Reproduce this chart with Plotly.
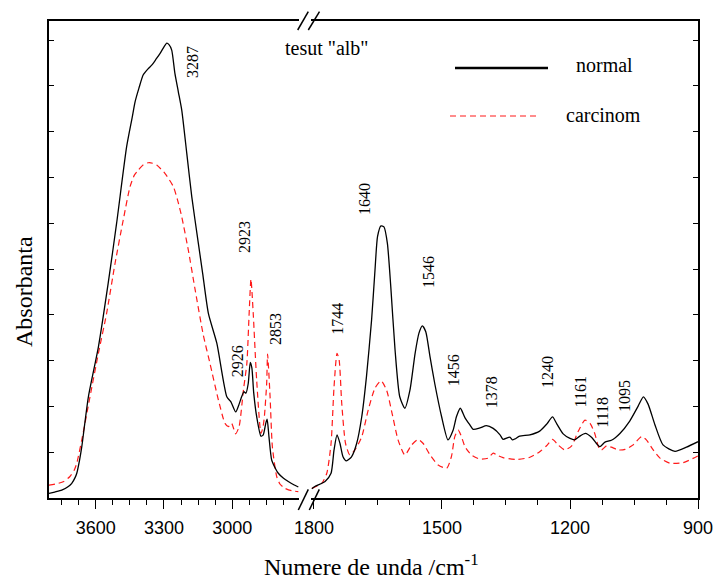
import plotly.graph_objects as go

# ---- data: left segment (high wavenumbers) ----
left_wn_normal = [3805, 3780, 3749, 3720, 3705, 3690, 3683, 3670, 3661, 3632, 3588, 3545, 3508, 3464,
                  3440, 3427, 3410, 3391, 3370, 3354, 3335, 3317, 3300, 3288, 3278, 3266, 3252, 3237,
                  3222, 3200, 3178, 3149, 3130, 3105, 3068, 3024, 3006, 2985, 2970, 2959, 2949, 2940,
                  2930, 2921, 2914, 2906, 2893, 2874, 2864, 2853, 2847, 2839, 2827, 2810, 2798, 2775,
                  2754, 2730, 2710]
left_a_normal = [0.010, 0.013, 0.017, 0.025, 0.032, 0.045, 0.054, 0.085, 0.112, 0.221, 0.330, 0.469, 0.600, 0.767,
                 0.830, 0.865, 0.895, 0.924, 0.937, 0.945, 0.958, 0.971, 0.985, 0.993, 0.990, 0.978, 0.927, 0.887,
                 0.847, 0.753, 0.658, 0.556, 0.490, 0.403, 0.338, 0.221, 0.210, 0.188, 0.205, 0.221, 0.232, 0.229,
                 0.250, 0.296, 0.284, 0.230, 0.178, 0.135, 0.138, 0.163, 0.172, 0.134, 0.083, 0.064, 0.054, 0.043,
                 0.036, 0.029, 0.024]

left_wn_carc = [3805, 3764, 3740, 3713, 3695, 3683, 3661, 3625, 3588, 3552, 3515, 3479, 3449, 3430,
                3413, 3390, 3369, 3350, 3332, 3296, 3259, 3240, 3222, 3193, 3164, 3127, 3098, 3061,
                3032, 3017, 3003, 2993, 2985, 2970, 2951, 2936, 2926, 2918, 2908, 2893, 2874, 2865,
                2859, 2849, 2845, 2834, 2824, 2805, 2790, 2768, 2740, 2710]
left_a_carc = [0.028, 0.032, 0.036, 0.047, 0.060, 0.076, 0.127, 0.221, 0.316, 0.403, 0.512, 0.607, 0.680, 0.705,
               0.716, 0.728, 0.732, 0.731, 0.727, 0.709, 0.680, 0.650, 0.614, 0.541, 0.457, 0.355, 0.294, 0.214,
               0.163, 0.156, 0.163, 0.150, 0.140, 0.156, 0.236, 0.294, 0.403, 0.478, 0.403, 0.258, 0.141, 0.155,
               0.178, 0.250, 0.314, 0.221, 0.112, 0.047, 0.030, 0.021, 0.016, 0.014]

# ---- data: right segment (fingerprint region) ----
right_wn_normal = [1805, 1798, 1774, 1760, 1753, 1746, 1739, 1732, 1724, 1712, 1700, 1688, 1677, 1665,
                   1657, 1651, 1643, 1636, 1628, 1620, 1610, 1599, 1587, 1575, 1563, 1554, 1546, 1538,
                   1528, 1517, 1501, 1486, 1474, 1466, 1457, 1446, 1435, 1427, 1411, 1396, 1380, 1364,
                   1357, 1341, 1335, 1329, 1318, 1294, 1271, 1254, 1241, 1231, 1216, 1200, 1189, 1177,
                   1164, 1149, 1138, 1130, 1118, 1103, 1083, 1060, 1040, 1028, 1017, 1001, 982, 954,
                   927, 900]
right_a_normal = [0.020, 0.025, 0.036, 0.054, 0.105, 0.138, 0.119, 0.090, 0.081, 0.090, 0.119, 0.178, 0.265, 0.389,
                  0.498, 0.571, 0.594, 0.592, 0.556, 0.461, 0.323, 0.221, 0.196, 0.236, 0.316, 0.360, 0.376, 0.363,
                  0.308, 0.250, 0.178, 0.127, 0.148, 0.178, 0.196, 0.175, 0.160, 0.150, 0.153, 0.158, 0.152, 0.138,
                  0.128, 0.133, 0.127, 0.129, 0.135, 0.138, 0.146, 0.162, 0.177, 0.162, 0.140, 0.130, 0.127, 0.135,
                  0.141, 0.132, 0.119, 0.112, 0.122, 0.126, 0.141, 0.168, 0.201, 0.221, 0.205, 0.160, 0.116, 0.102,
                  0.111, 0.123]

right_wn_carc = [1805, 1782, 1770, 1760, 1753, 1746, 1741, 1735, 1726, 1716, 1704, 1688, 1673, 1657,
                 1643, 1630, 1617, 1603, 1587, 1571, 1556, 1544, 1528, 1509, 1489, 1478, 1470, 1462,
                 1456, 1446, 1431, 1411, 1392, 1380, 1372, 1357, 1325, 1294, 1271, 1255, 1241, 1228,
                 1212, 1196, 1181, 1165, 1153, 1142, 1132, 1126, 1114, 1103, 1087, 1071, 1052, 1032,
                 1021, 1005, 989, 966, 935, 900]
right_a_carc = [0.021, 0.032, 0.054, 0.119, 0.243, 0.316, 0.301, 0.207, 0.119, 0.094, 0.105, 0.134, 0.192, 0.240,
                0.256, 0.236, 0.185, 0.127, 0.094, 0.116, 0.128, 0.119, 0.094, 0.072, 0.065, 0.090, 0.134, 0.148,
                0.138, 0.112, 0.094, 0.085, 0.087, 0.098, 0.094, 0.088, 0.084, 0.089, 0.101, 0.114, 0.128, 0.116,
                0.105, 0.114, 0.145, 0.170, 0.163, 0.141, 0.109, 0.105, 0.114, 0.111, 0.105, 0.106, 0.116, 0.134,
                0.127, 0.105, 0.087, 0.076, 0.077, 0.092]

# peak labels: (text, wavenumber position, absorbance position, axis)
peak_labels = ["3287", "2923", "2926", "2853", "1744", "1640", "1546", "1456", "1378", "1240", "1161", "1118", "1095"]
peak_label_x = [3172, 2944, 2979, 2812, 1744, 1680, 1533, 1474, 1385, 1254, 1176, 1123, 1071]
peak_label_y = [0.952, 0.570, 0.299, 0.369, 0.391, 0.653, 0.493, 0.279, 0.231, 0.275, 0.231, 0.188, 0.223]
peak_label_axis = ["x", "x", "x", "x", "x2", "x2", "x2", "x2", "x2", "x2", "x2", "x2", "x2"]

series_names = ["normal", "carcinom"]
x_major_left = [3600, 3300, 3000]
x_major_right = [1800, 1500, 1200, 900]

# ---- layout geometry (pixels in the 715x581 page) ----
W, H = 715, 581
ML, MR, MT, MB = 49, 17, 21, 83
PW, PH = W - ML - MR, H - MT - MB


def px(x):
    return (x - ML) / PW


def py(y):
    return (H - MB - y) / PH


BLACK = "#000000"
RED = "#ff1a1a"
SERIF = "Liberation Serif, Times New Roman, serif"
SANS = "Liberation Sans, Arial, sans-serif"
DASH = "6px,4px"
smooth = 0.6

fig = go.Figure()
fig.add_trace(go.Scatter(x=left_wn_carc, y=left_a_carc, mode="lines", xaxis="x", yaxis="y",
                         line=dict(color=RED, width=1.2, dash=DASH, shape="spline", smoothing=smooth),
                         showlegend=False))
fig.add_trace(go.Scatter(x=left_wn_normal, y=left_a_normal, mode="lines", xaxis="x", yaxis="y",
                         line=dict(color=BLACK, width=1.3, shape="spline", smoothing=smooth),
                         showlegend=False))
fig.add_trace(go.Scatter(x=right_wn_carc, y=right_a_carc, mode="lines", xaxis="x2", yaxis="y2",
                         line=dict(color=RED, width=1.2, dash=DASH, shape="spline", smoothing=smooth),
                         showlegend=False))
fig.add_trace(go.Scatter(x=right_wn_normal, y=right_a_normal, mode="lines", xaxis="x2", yaxis="y2",
                         line=dict(color=BLACK, width=1.3, shape="spline", smoothing=smooth),
                         showlegend=False))

xcommon = dict(showgrid=False, zeroline=False, showline=True, linecolor=BLACK, linewidth=1.5,
               mirror=True, ticks="outside", ticklen=9.5, tickwidth=1.3, tickcolor=BLACK,
               tickfont=dict(family=SANS, size=18, color=BLACK), ticklabelstandoff=3,
               tickmode="array", automargin=False)
ycommon = dict(range=[0, 1.0415], showgrid=False, zeroline=False, showline=True, linecolor=BLACK,
               linewidth=1.5, ticks="inside", ticklen=5, tickwidth=1.2, tickcolor=BLACK,
               dtick=0.1, tick0=0, showticklabels=False, automargin=False)

left_end_px, right_start_px = 299, 311
fig.update_layout(
    width=W, height=H,
    margin=dict(l=ML, r=MR, t=MT, b=MB, pad=0, autoexpand=False),
    paper_bgcolor="white", plot_bgcolor="white",
    showlegend=False,
    xaxis=dict(domain=[0, px(left_end_px)], range=[3805, 2707], anchor="y",
               tickvals=x_major_left,
               minor=dict(tickvals=[3750, 3675, 3525, 3450, 3375, 3225, 3150, 3075, 2925, 2850, 2775],
                          ticks="outside", ticklen=5.5, tickwidth=1.2, tickcolor=BLACK),
               **xcommon),
    xaxis2=dict(domain=[px(right_start_px), 1], range=[1807, 900], anchor="y2",
                tickvals=x_major_right,
                minor=dict(tickvals=[1725, 1650, 1575, 1425, 1350, 1275, 1125, 1050, 975],
                           ticks="outside", ticklen=5.5, tickwidth=1.2, tickcolor=BLACK),
                **xcommon),
    yaxis=dict(anchor="x", side="left", **ycommon),
    yaxis2=dict(anchor="x2", side="right", overlaying="y", **ycommon),
)

# peak labels
for t, xv, yv, ax in zip(peak_labels, peak_label_x, peak_label_y, peak_label_axis):
    fig.add_annotation(x=xv, y=yv, xref=ax, yref="y" if ax == "x" else "y2", text=t,
                       textangle=-90, showarrow=False, xanchor="center", yanchor="middle",
                       font=dict(family=SERIF, size=16, color=BLACK))


def paper_text(x, y, text, size, xanchor="center", angle=0):
    fig.add_annotation(x=px(x), y=py(y), xref="paper", yref="paper", text=text,
                       textangle=angle, showarrow=False, xanchor=xanchor, yanchor="middle",
                       font=dict(family=SERIF, size=size, color=BLACK))


paper_text(327, 48, 'tesut "alb"', 20)
paper_text(574, 65, series_names[0], 20, xanchor="left")
paper_text(564, 115, series_names[1], 20, xanchor="left")
paper_text(24, 292, "Absorbanta", 24, angle=-90)
paper_text(371, 565, "Numere de unda /cm<sup>-1</sup>", 24)

# legend samples
fig.add_shape(type="line", xref="paper", yref="paper", x0=px(455), x1=px(548), y0=py(68), y1=py(68),
              line=dict(color=BLACK, width=2.6))
fig.add_shape(type="line", xref="paper", yref="paper", x0=px(450), x1=px(540), y0=py(116), y1=py(116),
              line=dict(color=RED, width=1.2, dash=DASH))

# axis-break marks
for (x0, y0, x1, y1) in [(297.7, 30, 308.3, 11.7), (308.3, 30, 319.5, 11.7),
                         (298.3, 510, 308.3, 489.3), (309.3, 510, 319.3, 489.3)]:
    fig.add_shape(type="line", xref="paper", yref="paper", x0=px(x0), y0=py(y0), x1=px(x1), y1=py(y1),
                  line=dict(color=BLACK, width=1.5))

fig.write_html("out.html")
